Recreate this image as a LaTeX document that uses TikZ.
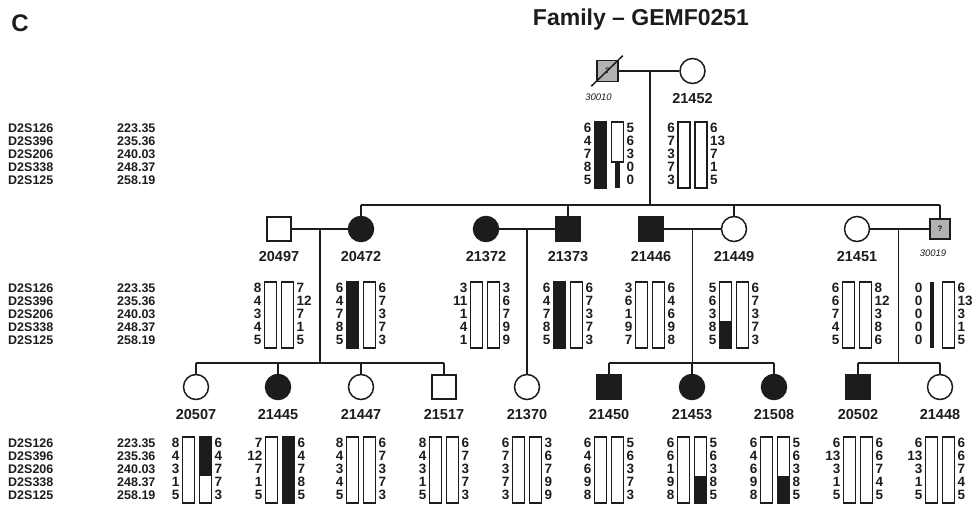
\documentclass[tikz,border=0pt]{standalone}
\usepackage{fontspec}
\setmainfont{Liberation Sans}
\usepackage{tikz}
\usetikzlibrary{positioning, calc}
\definecolor{PedInk}{HTML}{1C1C1C}
\definecolor{PedGrey}{HTML}{B2B2B2}

% bar kinds: white, black, black bottom, black top, narrow, narrow bottom
\newcommand{\barW}[2]{\draw[hbar] (#1,#2) rectangle ({#1+12},{#2+66});}
\newcommand{\barB}[2]{\draw[hbar, fill=PedInk] (#1,#2) rectangle ({#1+12},{#2+66});}
\newcommand{\barP}[2]{\fill[PedInk] (#1,{#2+38.5}) rectangle ({#1+12},{#2+66});
  \draw[hbar] (#1,#2) rectangle ({#1+12},{#2+66});}
\newcommand{\barT}[2]{\fill[PedInk] (#1,#2) rectangle ({#1+12},{#2+38.5});
  \draw[hbar] (#1,#2) rectangle ({#1+12},{#2+66});}
\newcommand{\barN}[2]{\fill[PedInk] ({#1+4},#2) rectangle ({#1+8},{#2+66});}
\newcommand{\barQ}[2]{\draw[hbar] (#1,#2) rectangle ({#1+12},{#2+40});
  \fill[PedInk] ({#1+3.5},{#2+40}) rectangle ({#1+8.5},{#2+66});}

% haplotype pair: name, centre x, top y, left alleles, right alleles, left bar, right bar
\newcommand{\haplo}[7]{%
  \pgfmathsetmacro{\hxl}{#2-14.5}%
  \pgfmathsetmacro{\hxr}{#2+2.5}%
  #6{\hxl}{#3}
  #7{\hxr}{#3}
  \foreach \al [count=\k from 0] in {#4}
    {\node[allele, anchor=east] (#1-l\k) at ({#2-17.5},{#3+6+13*\k}) {\al};}
  \foreach \al [count=\k from 0] in {#5}
    {\node[allele, anchor=west] (#1-r\k) at ({#2+17.5},{#3+6+13*\k}) {\al};}
}

% marker names and positions
\newcommand{\markers}[2]{%
  \foreach \mkname/\mkpos [count=\k from 0] in {D2S126/223.35, D2S396/235.36, D2S206/240.03, D2S338/248.37, D2S125/258.19}
    {\node[marker, anchor=west] (#1-n\k) at (8,{#2+6+13*\k}) {\mkname};
     \node[marker, anchor=west] (#1-p\k) at (117,{#2+6+13*\k}) {\mkpos};}
}

\begin{document}
\begin{tikzpicture}[
    x=1pt, y=-1pt,
    ped/.style={draw=PedInk, line width=1.5pt},
    male/.style={rectangle, draw=PedInk, line width=1.5pt, fill=white,
      minimum size=24pt, inner sep=0pt},
    female/.style={circle, draw=PedInk, line width=1.5pt, fill=white,
      minimum size=25pt, inner sep=0pt},
    aff/.style={fill=PedInk},
    unk/.style={fill=PedGrey, minimum size=21pt,
      font=\bfseries\fontsize{8}{8}\selectfont, text=PedInk},
    lab/.style={font=\bfseries\fontsize{14.5}{14.5}\selectfont, text=PedInk, inner sep=0pt},
    obs/.style={font=\itshape\fontsize{9.5}{9.5}\selectfont, text=PedInk, inner sep=0pt},
    allele/.style={font=\bfseries\fontsize{13.5}{13.5}\selectfont, text=PedInk, inner sep=0pt},
    marker/.style={font=\bfseries\fontsize{12.5}{12.5}\selectfont, text=PedInk, inner sep=0pt},
    hbar/.style={draw=PedInk, line width=1.1pt},
  ]
  \useasboundingbox (0,0) rectangle (976,506);

  \node[font=\bfseries\fontsize{24}{24}\selectfont, text=PedInk, inner sep=0pt] (panel) at (20,23) {C};
  \node[font=\bfseries\fontsize{23}{23}\selectfont, text=PedInk, inner sep=0pt] (title) at (641,20) {Family – GEMF0251};

  % generation I
  \node[male, unk] (i30010) at (607.5,71) {?};
  \node[female] (i21452) at (692.5,71) {};
  \draw[ped] ([shift={(-5pt,-4pt)}]i30010.south west) -- ([shift={(4pt,4pt)}]i30010.north east);

  % generation II
  \node[male] (i20497) at (279,229) {};
  \node[female, aff] (i20472) at (361,229) {};
  \node[female, aff] (i21372) at (486,229) {};
  \node[male, aff] (i21373) at (568,229) {};
  \node[male, aff] (i21446) at (651,229) {};
  \node[female] (i21449) at (734,229) {};
  \node[female] (i21451) at (857,229) {};
  \node[male, unk, minimum size=20pt] (i30019) at (940,229) {?};

  % generation III
  \node[female] (i20507) at (196,387) {};
  \node[female, aff] (i21445) at (278,387) {};
  \node[female] (i21447) at (361,387) {};
  \node[male] (i21517) at (444,387) {};
  \node[female] (i21370) at (527,387) {};
  \node[male, aff] (i21450) at (609,387) {};
  \node[female, aff] (i21453) at (692,387) {};
  \node[female, aff] (i21508) at (774,387) {};
  \node[male, aff] (i20502) at (858,387) {};
  \node[female] (i21448) at (940,387) {};

  % labels
  \node[obs, below=11pt of i30010, xshift=-9pt] (l30010) {30010};
  \node[obs, below=10pt of i30019, xshift=-7pt] (l30019) {30019};
  \foreach \p in {21452, 20497, 20472, 21372, 21373, 21446, 21449, 21451,
                  20507, 21445, 21447, 21517, 21370, 21450, 21453, 21508, 20502, 21448}
    \node[lab, below=9pt of i\p] (l\p) {\p};

  % lines of descent
  \coordinate (g2) at (0,205);
  \coordinate (g3) at (0,363);
  \coordinate (m1) at ($(i30010)!.5!(i21452)$);
  \coordinate (m2) at ($(i20497)!.5!(i20472)$);
  \coordinate (m3) at ($(i21372)!.5!(i21373)$);
  \coordinate (m4) at ($(i21446)!.5!(i21449)$);
  \coordinate (m5) at ($(i21451)!.5!(i30019)$);

  \draw[ped] (i30010) -- (i21452);
  \draw[ped] (m1) -- (m1 |- g2);
  \draw[ped] (i20472 |- g2) -- (i30019 |- g2);
  \foreach \c in {i20472, i21373, i21449, i30019}
    \draw[ped] (\c |- g2) -- (\c);

  \draw[ped] (i20497) -- (i20472);
  \draw[ped] (i21372) -- (i21373);
  \draw[ped] (i21446) -- (i21449);
  \draw[ped] (i21451) -- (i30019);

  \draw[ped] (m2) -- (m2 |- g3);
  \draw[ped] (i20507 |- g3) -- (i21517 |- g3);
  \foreach \c in {i20507, i21445, i21447, i21517}
    \draw[ped] (\c |- g3) -- (\c);
  \draw[ped] (m3) -- (i21370);
  \draw[ped] (m4) -- (m4 |- g3);
  \draw[ped] (i21450 |- g3) -- (i21508 |- g3);
  \foreach \c in {i21450, i21453, i21508}
    \draw[ped] (\c |- g3) -- (\c);
  \draw[ped] (m5) -- (m5 |- g3);
  \draw[ped] (i20502 |- g3) -- (i21448 |- g3);
  \foreach \c in {i20502, i21448}
    \draw[ped] (\c |- g3) -- (\c);

  % markers
  \markers{mk1}{122}
  \markers{mk2}{282}
  \markers{mk3}{437}

  % haplotypes
  \haplo{h30010}{609}{122}{6,4,7,8,5}{5,6,3,0,0}{\barB}{\barQ}
  \haplo{h21452}{692.5}{122}{6,7,3,7,3}{6,13,7,1,5}{\barW}{\barW}

  \haplo{h20497}{279}{282}{8,4,3,4,5}{7,12,7,1,5}{\barW}{\barW}
  \haplo{h20472}{361}{282}{6,4,7,8,5}{6,7,3,7,3}{\barB}{\barW}
  \haplo{h21372}{485}{282}{3,11,1,4,1}{3,6,7,9,9}{\barW}{\barW}
  \haplo{h21373}{568}{282}{6,4,7,8,5}{6,7,3,7,3}{\barB}{\barW}
  \haplo{h21446}{650}{282}{3,6,1,9,7}{6,4,6,9,8}{\barW}{\barW}
  \haplo{h21449}{734}{282}{5,6,3,8,5}{6,7,3,7,3}{\barP}{\barW}
  \haplo{h21451}{857}{282}{6,6,7,4,5}{8,12,3,8,6}{\barW}{\barW}
  \haplo{h30019}{940}{282}{0,0,0,0,0}{6,13,3,1,5}{\barN}{\barW}

  \haplo{h20507}{197}{437}{8,4,3,1,5}{6,4,7,7,3}{\barW}{\barT}
  \haplo{h21445}{280}{437}{7,12,7,1,5}{6,4,7,8,5}{\barW}{\barB}
  \haplo{h21447}{361}{437}{8,4,3,4,5}{6,7,3,7,3}{\barW}{\barW}
  \haplo{h21517}{444}{437}{8,4,3,1,5}{6,7,3,7,3}{\barW}{\barW}
  \haplo{h21370}{527}{437}{6,7,3,7,3}{3,6,7,9,9}{\barW}{\barW}
  \haplo{h21450}{609}{437}{6,4,6,9,8}{5,6,3,7,3}{\barW}{\barW}
  \haplo{h21453}{692}{437}{6,6,1,9,8}{5,6,3,8,5}{\barW}{\barP}
  \haplo{h21508}{775}{437}{6,4,6,9,8}{5,6,3,8,5}{\barW}{\barP}
  \haplo{h20502}{858}{437}{6,13,3,1,5}{6,6,7,4,5}{\barW}{\barW}
  \haplo{h21448}{940}{437}{6,13,3,1,5}{6,6,7,4,5}{\barW}{\barW}
\end{tikzpicture}
\end{document}
